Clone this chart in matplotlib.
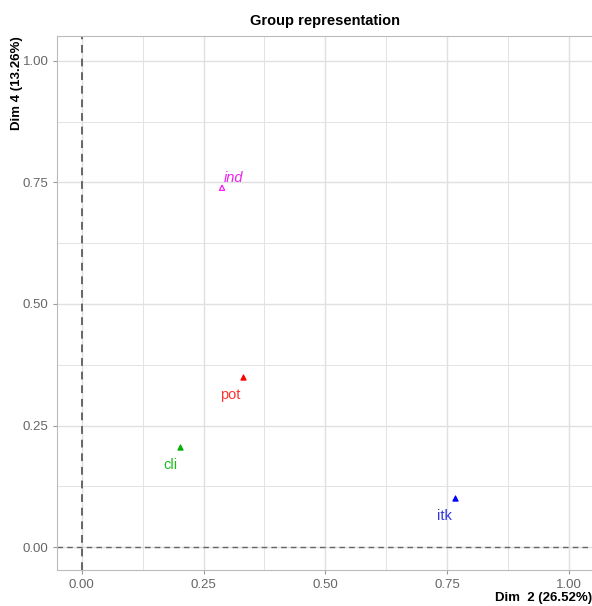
import matplotlib.pyplot as plt
import numpy as np

plt.rcParams["font.family"] = ["Liberation Sans", "DejaVu Sans"]

groups = ["ind", "pot", "cli", "itk"]
dim2 = [0.288, 0.331, 0.201, 0.766]
dim4 = [0.739, 0.349, 0.205, 0.101]
colors = ["#FF00FF", "#FF0000", "#00B000", "#0000FF"]
text_colors = ["#EE22EE", "#FF3333", "#22BB22", "#3333DD"]
filled = [False, True, True, True]

ticks = [0.0, 0.25, 0.5, 0.75, 1.0]
tick_labels = ["0.00", "0.25", "0.50", "0.75", "1.00"]

fig = plt.figure(figsize=(5.92, 6.06), dpi=100)
ax = fig.add_axes([57.5 / 592, 36 / 606, (593 - 57.5) / 592, (570 - 36) / 606])

ax.set_xlim(-0.05, 1.05)
ax.set_ylim(-0.047, 1.051)
ax.set_xticks(ticks)
ax.set_xticklabels(tick_labels)
ax.set_yticks(ticks)
ax.set_yticklabels(tick_labels)
ax.set_xticks(np.arange(0.125, 1.0, 0.25), minor=True)
ax.set_yticks(np.arange(0.125, 1.0, 0.25), minor=True)
ax.grid(True, which="major", color="#E0E0E0", linewidth=1.0)
ax.grid(True, which="minor", color="#E3E3E3", linewidth=0.7)
ax.set_axisbelow(True)
ax.tick_params(which="major", length=3, color="#999999", labelcolor="#666666", labelsize=9.5)
ax.tick_params(which="minor", length=0)
for s in ax.spines.values():
    s.set_color("#BBBBBB")

ax.axhline(0, color="#666666", linestyle=(0, (4, 3)), linewidth=1.0)
ax.axvline(0, color="#666666", linestyle=(0, (4, 3)), linewidth=1.4)

for g, x, y, c, tc, f in zip(groups, dim2, dim4, colors, text_colors, filled):
    ax.scatter(x, y, marker="^", s=14, facecolor=c if f else "none", edgecolor=c, linewidth=0.8, zorder=3)
    if g == "ind":
        ax.text(x + 0.003, y + 0.005, g, color=tc, fontsize=10.5, style="italic", ha="left", va="bottom")
    else:
        ax.text(x - 0.005, y - 0.022, g, color=tc, fontsize=10.5, ha="right", va="top")

ax.set_title("Group representation", fontsize=10.5, fontweight="bold", pad=8)
fig.text(17 / 592, 1 - 36 / 606, "Dim 4 (13.26%)", fontsize=9.5, fontweight="bold",
         rotation=90, ha="center", va="top")
ax.xaxis.set_label_coords(0.998, -0.042)
ax.set_xlabel("Dim  2 (26.52%)", fontsize=9.5, fontweight="bold", ha="right")

fig.savefig("out.png", dpi=100)
